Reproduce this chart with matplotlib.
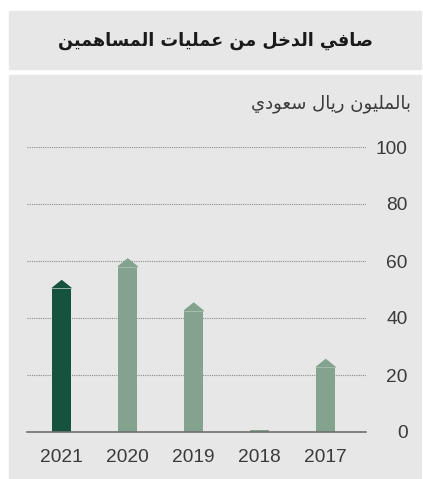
import matplotlib.pyplot as plt
import matplotlib.patches as patches
import numpy as np

# data (millions SAR)
years = ['2021', '2020', '2019', '2018', '2017']
values = [50.4, 58.0, 42.5, 0.6, 22.7]
bar_colors = ['#15533f', '#84a38f', '#84a38f', '#84a38f', '#84a38f']
y_ticks = [0, 20, 40, 60, 80, 100]

title_text = 'صافي الدخل من عمليات المساهمين'
unit_text = 'بالمليون ريال سعودي'

# matplotlib has no arabic shaping, so map letters to presentation forms
# (isolated, final, initial, medial); right-joining letters only have 2
FORMS = {
    'ا': ('\uFE8D', '\uFE8E'),
    'ب': ('\uFE8F', '\uFE90', '\uFE91', '\uFE92'),
    'ت': ('\uFE95', '\uFE96', '\uFE97', '\uFE98'),
    'خ': ('\uFEA5', '\uFEA6', '\uFEA7', '\uFEA8'),
    'د': ('\uFEA9', '\uFEAA'),
    'ر': ('\uFEAD', '\uFEAE'),
    'س': ('\uFEB1', '\uFEB2', '\uFEB3', '\uFEB4'),
    'ص': ('\uFEB9', '\uFEBA', '\uFEBB', '\uFEBC'),
    'ع': ('\uFEC9', '\uFECA', '\uFECB', '\uFECC'),
    'ف': ('\uFED1', '\uFED2', '\uFED3', '\uFED4'),
    'ل': ('\uFEDD', '\uFEDE', '\uFEDF', '\uFEE0'),
    'م': ('\uFEE1', '\uFEE2', '\uFEE3', '\uFEE4'),
    'ن': ('\uFEE5', '\uFEE6', '\uFEE7', '\uFEE8'),
    'ه': ('\uFEE9', '\uFEEA', '\uFEEB', '\uFEEC'),
    'و': ('\uFEED', '\uFEEE'),
    'ي': ('\uFEF1', '\uFEF2', '\uFEF3', '\uFEF4'),
}


def shape(s):
    out = []
    for i, ch in enumerate(s):
        if ch not in FORMS:
            out.append(ch)
            continue
        prev = s[i - 1] if i > 0 else ' '
        nxt = s[i + 1] if i < len(s) - 1 else ' '
        join_prev = prev in FORMS and len(FORMS[prev]) == 4
        join_next = nxt in FORMS and len(FORMS[ch]) == 4
        f = FORMS[ch]
        if join_prev and join_next:
            out.append(f[3])
        elif join_prev:
            out.append(f[1])
        elif join_next:
            out.append(f[2])
        else:
            out.append(f[0])
    return ''.join(out)[::-1]


W, H = 423, 479
fig = plt.figure(figsize=(W / 100, H / 100), dpi=100)
fig.patch.set_facecolor('white')

bg = '#e6e7e6'
fig.add_artist(patches.Rectangle((9 / W, 1 - 69 / H), 412 / W, 58 / H,
                                 transform=fig.transFigure, color=bg, zorder=0))
fig.add_artist(patches.Rectangle((9 / W, 0), 412 / W, 1 - 75 / H,
                                 transform=fig.transFigure, color=bg, zorder=0))

fig.text(215 / W, 1 - 41 / H, shape(title_text), ha='center', va='center',
         fontsize=12.7, fontweight='bold', color='#1a1a1a', family='DejaVu Sans')
fig.text(411 / W, 1 - 104 / H, shape(unit_text), ha='right', va='center',
         fontsize=13, color='#3a3a3a', family='DejaVu Sans')

ax = fig.add_axes([27 / W, 1 - 432 / H, 339 / W, 285 / H])
ax.set_facecolor('none')

x = np.arange(len(years))
bw = 0.29
ax.bar(x, values, width=bw, color=bar_colors, zorder=3)

# pointed tops
tip = 2.7
for xi, v, c in zip(x, values, bar_colors):
    if v < 5:
        continue
    tri = patches.Polygon([[xi - bw / 2, v], [xi, v + tip], [xi + bw / 2, v]],
                          closed=True, color=c, zorder=3)
    ax.add_patch(tri)
    ax.plot([xi - bw / 2, xi + bw / 2], [v, v], color='#a9c0b1', lw=0.6, zorder=4)

ax.set_xlim(-0.526, 4.61)
ax.set_ylim(0, 100)
ax.set_xticks(x)
ax.set_xticklabels(years)
ax.set_yticks(y_ticks)
ax.yaxis.tick_right()
ax.tick_params(axis='both', length=0, labelsize=13.8, colors='#3a3a3a')
ax.tick_params(axis='x', pad=12)
ax.tick_params(axis='y', pad=30)
for lab in ax.get_yticklabels():
    lab.set_horizontalalignment('right')
for lab in ax.get_xticklabels() + ax.get_yticklabels():
    lab.set_family('Liberation Sans')

for t in y_ticks[1:]:
    ax.axhline(t, color='#8a8a8a', lw=0.8, ls=(0, (1, 1)), zorder=1)

for s in ['top', 'left', 'right']:
    ax.spines[s].set_visible(False)
ax.spines['bottom'].set_color('#707070')
ax.spines['bottom'].set_linewidth(1.2)
ax.spines['bottom'].set_zorder(5)

plt.savefig('out.png', dpi=100)
